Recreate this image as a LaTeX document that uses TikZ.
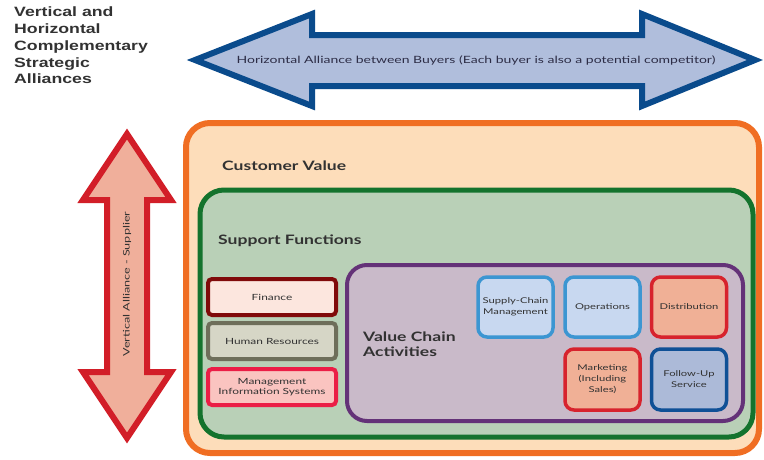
\documentclass[tikz,border=0pt]{standalone}
\usepackage{fontspec}
\usepackage{tikz}
\usetikzlibrary{positioning}
\newfontfamily\titlefont[FakeStretch=1.31]{Liberation Sans}
\newfontfamily\gillfont[FakeStretch=1.4]{Lato}
\newfontfamily\headfont[FakeStretch=1.35]{Lato}
\definecolor{hblueFill}{RGB}{176,190,220}
\definecolor{hblueLine}{RGB}{10,75,140}
\definecolor{vredFill}{RGB}{240,175,155}
\definecolor{vredLine}{RGB}{210,30,40}
\definecolor{orangeLine}{RGB}{240,110,35}
\definecolor{orangeFill}{RGB}{253,221,186}
\definecolor{greenLine}{RGB}{20,115,45}
\definecolor{greenFill}{RGB}{185,208,183}
\definecolor{purpleLine}{RGB}{100,50,120}
\definecolor{purpleFill}{RGB}{201,186,201}
\definecolor{finLine}{RGB}{128,10,10}
\definecolor{finFill}{RGB}{252,230,222}
\definecolor{hrLine}{RGB}{110,110,90}
\definecolor{hrFill}{RGB}{214,214,198}
\definecolor{misLine}{RGB}{235,30,70}
\definecolor{misFill}{RGB}{250,196,192}
\definecolor{ltblueLine}{RGB}{60,150,210}
\definecolor{ltblueFill}{RGB}{200,216,240}
\definecolor{salmonLine}{RGB}{215,35,45}
\definecolor{salmonFill}{RGB}{240,176,150}
\definecolor{dkblueLine}{RGB}{15,80,150}
\definecolor{dkblueFill}{RGB}{172,186,216}
\definecolor{txt}{RGB}{50,50,50}

\begin{document}
\begin{tikzpicture}[x=1pt, y=-1pt,
      layer/.style={draw, rounded corners=24pt, inner sep=0pt},
      fnbox/.style={draw, line width=4pt, rounded corners=4pt, inner sep=0pt,
        minimum width=128pt, minimum height=36pt, align=center,
        font=\gillfont\fontsize{8.5}{10}\selectfont, text=txt},
      actbox/.style={draw, line width=3.5pt, rounded corners=9pt, inner sep=0pt,
        minimum width=75pt, minimum height=60pt, align=center,
        font=\gillfont\fontsize{8}{11}\selectfont, text=txt},
      heading/.style={anchor=base west, inner sep=0pt, text=txt,
        font=\headfont\bfseries\fontsize{13}{15}\selectfont},
      bigarrow/.style={line width=6pt, miter limit=10},
    ]
    \useasboundingbox (0,0) rectangle (764,459);

    % Title
    \node[anchor=north west, align=left, inner sep=0pt,
      font=\titlefont\bfseries\fontsize{13.5}{16.7}\selectfont, text=txt]
      (title) at (14,7) {Vertical and\\Horizontal\\Complementary\\Strategic\\Alliances};

    % Horizontal alliance arrow
    \draw[bigarrow, draw=hblueLine, fill=hblueFill]
      (195,60) -- (312,14) -- (312,35) -- (642,35) -- (642,14) -- (755,60)
      -- (642,106) -- (642,86) -- (312,86) -- (312,106) -- cycle;
    \node[font=\gillfont\fontsize{10}{12}\selectfont, text=txt!90!blue]
      (horiz) at (476,60) {Horizontal Alliance between Buyers (Each buyer is also a potential competitor)};

    % Vertical alliance arrow
    \draw[bigarrow, draw=vredLine, fill=vredFill]
      (127,134) -- (171,200) -- (147,200) -- (147,372) -- (171,372) -- (127,438)
      -- (83,372) -- (107,372) -- (107,200) -- (83,200) -- cycle;
    \node[rotate=90, font=\gillfont\fontsize{9}{10}\selectfont, text=txt]
      (vert) at (127,284) {Vertical Alliance - Supplier};

    % Customer value
    \node[layer, line width=6pt, draw=orangeLine, fill=orangeFill,
      minimum width=573pt, minimum height=330pt] (custval) at (472.5,288) {};
    \node[heading] (custlbl) at (222,170) {Customer Value};

    % Support functions
    \node[layer, line width=5pt, draw=greenLine, fill=greenFill,
      minimum width=553pt, minimum height=247pt] (support) at (476.5,313.5) {};
    \node[heading] (supplbl) at (218,244) {Support Functions};

    \node[fnbox, draw=finLine, fill=finFill] (finance) at (272,297) {Finance};
    \node[fnbox, draw=hrLine, fill=hrFill] (hr) at (272,341) {Human Resources};
    \node[fnbox, draw=misLine, fill=misFill] (mis) at (272,387) {Management\\Information Systems};

    % Value chain activities
    \node[layer, line width=4pt, rounded corners=20pt, draw=purpleLine, fill=purpleFill,
      minimum width=396pt, minimum height=156pt] (vca) at (545,343) {};
    \node[heading, anchor=west, align=left, font=\headfont\bfseries\fontsize{13}{14.5}\selectfont]
      (vcalbl) at (363,344) {Value Chain\\Activities};

    \node[actbox, draw=ltblueLine, fill=ltblueFill] (scm) at (515.5,307) {Supply-Chain\\Management};
    \node[actbox, draw=ltblueLine, fill=ltblueFill] (ops) at (602.5,307) {Operations};
    \node[actbox, draw=salmonLine, fill=salmonFill] (dist) at (689,307) {Distribution};
    \node[actbox, draw=salmonLine, fill=salmonFill, minimum height=61pt]
      (mkt) at (602.5,379.5) {Marketing\\(Including\\Sales)};
    \node[actbox, draw=dkblueLine, fill=dkblueFill, minimum height=61pt]
      (follow) at (689,379.5) {Follow-Up\\Service};
  \end{tikzpicture}
\end{document}
